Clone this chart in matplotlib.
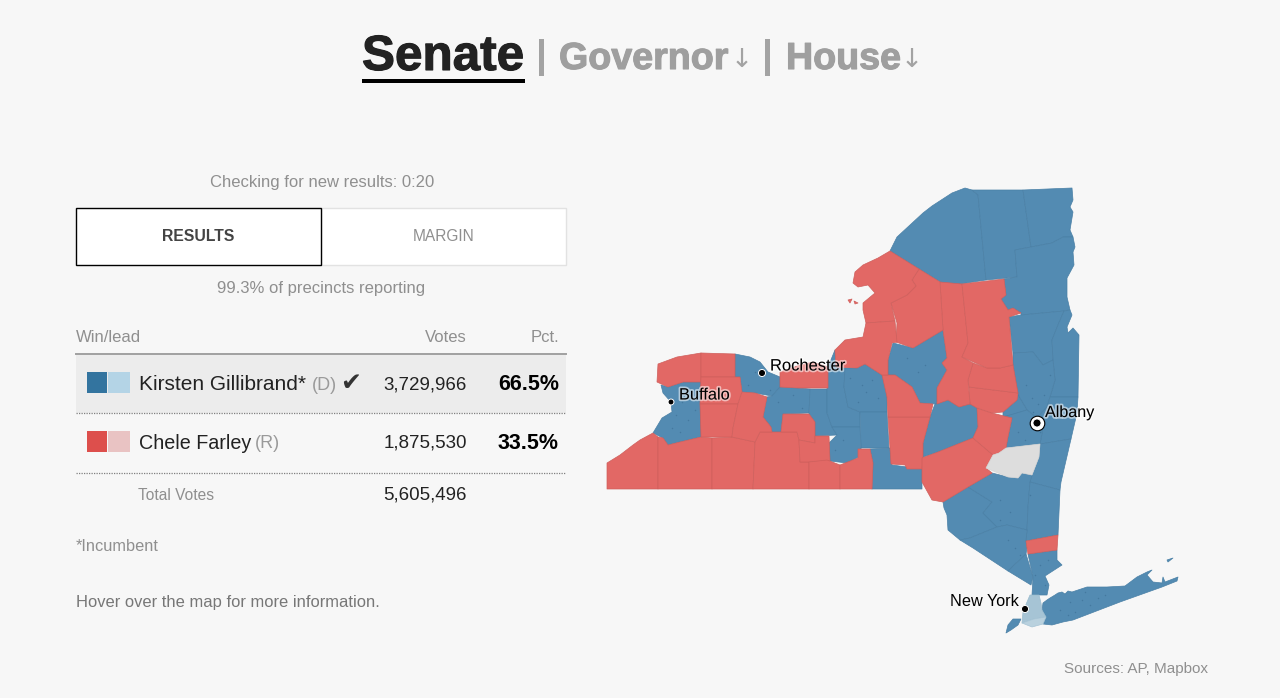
import matplotlib
matplotlib.use("Agg")
import matplotlib.pyplot as plt
import matplotlib.patheffects as pe
from matplotlib.patches import Rectangle

plt.rcParams["font.family"] = ["Liberation Sans", "DejaVu Sans"]

# county outlines (x, y in image pixels)
chautauqua = [(607,489),(607,463),(620,455),(633,445),(640,440),(653,433),(658,437),(658,489)]
cattaraugus = [(658,437),(663,438),(668,445),(680,442),(701,437),(712,438),(712,489),(658,489)]
allegany = [(712,438),(732,437),(755,442),(753,489),(712,489)]
steuben = [(755,442),(760,432),(797,432),(799,440),(800,462),(809,462),(809,489),(753,489)]
niagara = [(658,364),(677,357),(701,353),(701,382),(683,382),(668,387),(657,382)]
orleans = [(701,353),(735,354),(735,377),(701,377)]
genesee = [(701,377),(740,377),(742,392),(738,404),(700,404)]
wyoming = [(700,404),(738,404),(733,428),(732,437),(701,437)]
livingston = [(742,392),(755,393),(767,397),(763,417),(771,427),(772,432),(760,432),(755,442),(732,437),(733,428),(738,404)]
wayne = [(780,372),(800,365),(813,362),(828,367),(828,388),(798,388),(780,387)]
yates = [(783,414),(809,414),(815,422),(815,443),(799,440),(797,432),(781,432)]
schuyler = [(799,440),(815,443),(815,436),(829,436),(830,461),(809,462),(800,462)]
chemung = [(809,462),(827,460),(840,465),(840,489),(809,489)]
tioga = [(840,465),(858,458),(858,449),(870,449),(873,463),(872,489),(840,489)]
chenango = [(888,417),(930,417),(923,443),(923,457),(922,469),(907,469),(905,465),(891,464)]
madison = [(882,375),(895,375),(912,387),(920,403),(933,404),(930,417),(888,417),(887,397)]
delaware = [(922,458),(938,452),(973,438),(993,455),(986,468),(992,473),(968,487),(943,502),(932,500),(922,482)]
schoharie = [(977,408),(992,413),(1012,418),(1008,437),(1006,448),(999,453),(993,455),(973,438),(978,427)]
montgomery = [(969,387),(1018,393),(1017,400),(1003,412),(992,413),(977,408),(970,404)]
fulton = [(973,363),(987,368),(1000,368),(1013,365),(1018,393),(969,387),(968,380)]
herkimer = [(940,282),(962,284),(968,343),(962,357),(973,363),(968,380),(970,404),(959,407),(948,400),(937,404),(937,388),(947,370),(942,363),(947,358),(943,330)]
hamilton = [(962,284),(1004,279),(1006,295),(1001,299),(1008,310),(1013,308),(1021,313),(1009,317),(1013,365),(1000,368),(987,368),(962,357),(968,343)]
oneida = [(919,269),(940,282),(943,330),(913,348),(896,342),(897,323),(891,303),(907,295),(916,286),(912,280)]
jefferson = [(890,251),(919,269),(912,280),(916,286),(907,295),(891,303),(895,321),(866,323),(863,310),(863,303),(875,293),(868,285),(858,287),(853,283),(855,272),(863,265),(878,258)]
oswego = [(866,323),(895,321),(897,342),(892,343),(888,360),(888,375),(882,375),(865,364),(857,368),(836,367),(835,350),(845,340),(863,337)]
putnam = [(1026,541),(1058,535),(1057,550),(1028,554),(1027,548)]
lake_isle_a = [(848,300),(852,299),(850,303)]
lake_isle_b = [(854,301),(858,303),(855,304)]

erie = [(653,433),(662,418),(672,412),(671,402),(663,393),(661,385),(668,387),(683,382),(701,382),(701,437),(680,442),(668,445),(663,438)]
monroe = [(735,354),(750,357),(760,362),(768,372),(780,377),(780,387),(772,396),(755,393),(742,392),(740,377),(735,377)]
ontario = [(772,396),(780,387),(798,388),(810,389),(809,413),(783,414),(781,432),(772,432),(771,427),(763,417),(767,397)]
seneca = [(810,389),(827,389),(827,413),(832,427),(837,435),(815,436),(815,422),(809,414)]
cayuga = [(828,367),(835,350),(836,367),(845,368),(844,387),(848,407),(860,412),(860,427),(832,427),(827,413),(827,389)]
onondaga = [(845,368),(857,368),(865,364),(882,375),(887,383),(887,412),(860,412),(848,407),(844,387)]
cortland = [(860,412),(887,412),(889,448),(861,448)]
tompkins = [(832,427),(860,427),(861,448),(862,455),(847,463),(830,461),(829,443),(837,435)]
broome = [(870,449),(890,448),(892,465),(922,469),(922,489),(872,489),(873,463)]
oneida_south = [(893,343),(913,348),(943,330),(947,358),(942,363),(947,370),(937,388),(937,404),(920,403),(912,387),(895,375),(888,375),(888,360)]
otsego = [(930,417),(935,404),(948,400),(960,407),(968,402),(977,408),(978,427),(973,438),(938,452),(923,457),(923,443)]
st_lawrence = [(890,251),(897,237),(923,213),(932,206),(952,193),(965,188),(972,190),(978,195),(986,280),(947,286),(919,269)]
franklin = [(972,190),(1023,190),(1031,247),(1015,250),(1017,277),(986,280),(978,195)]
clinton = [(1023,190),(1072,188),(1073,200),(1070,207),(1073,212),(1070,230),(1073,237),(1063,237),(1052,243),(1031,247)]
essex = [(1015,250),(1031,247),(1052,243),(1063,237),(1073,237),(1075,247),(1073,252),(1074,265),(1067,278),(1067,297),(1070,310),(1064,311),(1021,315),(1021,313),(1013,308),(1008,310),(1001,299),(1006,295),(1004,279),(1017,277)]
warren = [(1009,317),(1021,315),(1064,311),(1058,325),(1052,340),(1053,360),(1043,365),(1033,352),(1013,353)]
washington = [(1064,311),(1070,310),(1072,315),(1067,327),(1068,333),(1073,328),(1079,335),(1078,397),(1050,397),(1055,380),(1053,360),(1052,340),(1058,325)]
saratoga = [(1013,353),(1033,352),(1043,365),(1053,360),(1055,380),(1050,397),(1047,407),(1037,418),(1027,410),(1018,395),(1013,365)]
rensselaer = [(1050,397),(1078,397),(1077,413),(1071,439),(1040,444),(1043,428),(1037,418),(1047,407)]
schenectady = [(1018,395),(1027,410),(1012,415),(1003,417),(1003,412),(1017,400)]
albany = [(1003,417),(1027,410),(1037,418),(1043,428),(1040,444),(1006,448),(1008,437),(1012,418)]
columbia = [(1040,444),(1071,439),(1061,482),(1060,490),(1030,482),(1032,475),(1039,457)]
sullivan = [(943,502),(968,487),(992,502),(983,513),(997,527),(970,538),(960,540),(948,530),(947,515),(944,508)]
ulster = [(968,487),(992,473),(1008,477),(1018,478),(1022,473),(1032,475),(1030,482),(1028,507),(1027,530),(1007,525),(997,527),(983,513),(992,502)]
dutchess = [(1030,482),(1060,490),(1058,535),(1026,541),(1027,530),(1028,507)]
orange = [(960,540),(970,538),(997,527),(1007,525),(1027,530),(1026,541),(1027,548),(1026,554),(1008,571),(973,548)]
rockland = [(1026,554),(1033,577),(1031,585),(1008,571)]
westchester = [(1028,554),(1057,550),(1057,560),(1062,565),(1045,576),(1049,585),(1047,595),(1032,595),(1033,577)]
staten_island = [(1006,633),(1008,625),(1013,619),(1021,619),(1018,625),(1011,630)]
long_island = [(1043,603),(1047,600),(1050,598),(1055,595),(1058,593),(1062,592),(1065,594),(1068,591),(1072,592),(1078,590),(1087,587),(1107,587),(1125,586),(1137,577),(1147,572),(1152,570),(1147,575),(1153,582),(1162,583),(1163,577),(1165,582),(1178,577),(1177,581),(1162,587),(1120,602),(1073,620),(1063,622),(1052,625),(1043,624),(1046,617),(1042,610)]
gardiners = [(1167,560),(1173,558),(1168,562)]

nyc_north = [(1030,595),(1039,595),(1041,603),(1042,610),(1046,617),(1034,619),(1022,623),(1023,612),(1027,602)]
nyc_south = [(1022,623),(1034,619),(1046,617),(1043,624),(1032,627)]
greene = [(993,455),(999,453),(1006,448),(1040,444),(1039,457),(1032,475),(1022,473),(1018,478),(1008,477),(986,468)]

red_counties = [chautauqua, cattaraugus, allegany, steuben, niagara, orleans, genesee, wyoming,
                livingston, wayne, yates, schuyler, chemung, tioga, chenango, madison, delaware,
                schoharie, montgomery, fulton, herkimer, hamilton, oneida, jefferson, oswego,
                putnam, lake_isle_a, lake_isle_b]
blue_counties = [erie, monroe, ontario, seneca, cayuga, onondaga, cortland, tompkins, broome,
                 oneida_south, otsego, st_lawrence, franklin, clinton, essex, warren, washington,
                 saratoga, rensselaer, schenectady, albany, columbia, sullivan, ulster, dutchess,
                 orange, rockland, westchester, staten_island, long_island, gardiners]

# darker specks of population, where they bunch up on the map
speck_x = [676, 682, 688, 672, 690, 680, 695, 684, 755, 748, 770, 778, 793, 802, 850, 862, 866, 872, 878, 858,
           843, 835, 907, 918, 925, 1026, 1032, 1038, 1033, 1044, 1050, 1040, 1018, 1025, 1000, 1008, 1015,
           1020, 1040, 1035, 1048, 1045, 1060, 1070, 1082, 1090, 1098, 1075, 1105, 1068, 1085, 1010, 1000, 1030]
speck_y = [415, 402, 420, 428, 395, 432, 410, 390, 372, 385, 390, 402, 395, 408, 378, 385, 392, 380, 398, 402,
           440, 450, 358, 372, 365, 385, 398, 404, 412, 395, 375, 432, 432, 440, 500, 540, 548, 555, 565, 575,
           560, 585, 610, 602, 600, 605, 598, 612, 595, 615, 592, 512, 520, 495]

cities = ["Buffalo", "Rochester", "Albany", "New York"]
city_x = [671, 762, 1037, 1025]
city_y = [402, 373, 423, 609]

candidates = ["Kirsten Gillibrand*", "Chele Farley"]
parties = ["(D)", "(R)"]
votes = ["3,729,966", "1,875,530"]
shares = ["66.5%", "33.5%"]
total_votes = "5,605,496"

BG = "#f7f7f7"
GREY = "#8f8f8f"
INK = "#222222"

fig = plt.figure(figsize=(12.8, 6.98), dpi=100, facecolor=BG)
ax = fig.add_axes([0, 0, 1, 1])
ax.set_xlim(0, 1280)
ax.set_ylim(698, 0)
ax.axis("off")


def draw_counties(shapes, fill, edge):
    for shape in shapes:
        xs, ys = zip(*shape)
        ax.fill(xs, ys, facecolor=fill, edgecolor=edge, linewidth=0.5, joinstyle="round", zorder=2)


draw_counties(blue_counties, "#538bb2", "#4a80a6")
draw_counties(red_counties, "#e26865", "#cf5f5c")
draw_counties([greene], "#dddddd", "#d6d6d6")
draw_counties([nyc_north], "#a6c4d5", "#9abccf")
draw_counties([nyc_south], "#b9d1de", "#a6c4d5")
ax.scatter(speck_x, speck_y, s=1.2, c="#44799f", linewidths=0, zorder=3)

# city markers and labels
halo = [pe.withStroke(linewidth=2.5, foreground="white", alpha=0.55)]
ax.scatter([city_x[2]], [city_y[2]], s=110, c="white", edgecolors="black", linewidths=0.8, zorder=4)
ax.scatter(city_x, city_y, s=[18, 26, 34, 26], c="black", edgecolors="white", linewidths=0.7, zorder=5)
ax.text(679, 395, cities[0], fontsize=11.8, color="black", va="center", path_effects=halo, zorder=6)
ax.text(770, 366, cities[1], fontsize=11.9, color="black", va="center", path_effects=halo, zorder=6)
ax.text(1045, 412.5, cities[2], fontsize=11.6, color="black", va="center", path_effects=halo, zorder=6)
ax.text(950, 601, cities[3], fontsize=11.7, color="black", va="center", zorder=6)

# title row
bold_ink = [pe.withStroke(linewidth=0.8, foreground=INK)]
bold_grey = [pe.withStroke(linewidth=0.8, foreground="#9f9f9f")]
ax.text(362, 70, "Senate", fontsize=35.6, fontweight="bold", color=INK, va="baseline", path_effects=bold_ink)
ax.add_patch(Rectangle((362, 79), 163, 3.5, facecolor="black", edgecolor="none"))
ax.text(541.5, 58, "|", fontsize=28, fontweight="bold", color="#a3a3a3", ha="center", va="center")
ax.text(559, 69, "Governor", fontsize=27.1, fontweight="bold", color="#9f9f9f", va="baseline", path_effects=bold_grey)
ax.text(742, 60, "↓", fontsize=19, color="#a3a3a3", ha="center", va="center", family="DejaVu Sans")
ax.text(767.5, 58, "|", fontsize=28, fontweight="bold", color="#a3a3a3", ha="center", va="center")
ax.text(786, 69, "House", fontsize=27.1, fontweight="bold", color="#9f9f9f", va="baseline", path_effects=bold_grey)
ax.text(912, 60, "↓", fontsize=19, color="#a3a3a3", ha="center", va="center", family="DejaVu Sans")

# controls
ax.text(322, 182, "Checking for new results: 0:20", fontsize=12, color=GREY, ha="center", va="center")
ax.add_patch(Rectangle((320.5, 207.5), 245, 57, facecolor="white", edgecolor="#e2e2e2", linewidth=1))
ax.add_patch(Rectangle((75.5, 207.5), 245, 57, facecolor="white", edgecolor="black", linewidth=1))
ax.text(198.5, 236.5, "RESULTS", fontsize=11.3, fontweight="bold", color="#444444", ha="center", va="center")
ax.text(443.5, 236.5, "MARGIN", fontsize=11.2, color=GREY, ha="center", va="center")
ax.text(321, 288, "99.3% of precincts reporting", fontsize=12, color=GREY, ha="center", va="center")

# results table
ax.text(76, 337.5, "Win/lead", fontsize=12, color=GREY, va="center")
ax.text(467, 337.5, "Votes", fontsize=12, color=GREY, ha="right", va="center")
ax.text(559, 337.5, "Pct.", fontsize=12, color=GREY, ha="right", va="center")
ax.add_patch(Rectangle((76, 355), 490, 58, facecolor="#ececec", edgecolor="none"))
ax.plot([76, 566], [354, 354], color="#a0a0a0", linewidth=1.4)
for y in (413, 473):
    ax.plot([76, 566], [y, y], color="#808080", linewidth=0.9, linestyle=(0, (1, 1)))

row_y = [383, 442]
dark = ["#33749f", "#dd4f4c"]
light = ["#b4d4e6", "#e9c3c3"]
name_size = [15, 14.2]
party_x = [312, 255]
for i, y in enumerate(row_y):
    ax.add_patch(Rectangle((87, y - 11), 20, 21, facecolor=dark[i], edgecolor="none"))
    ax.add_patch(Rectangle((108, y - 11), 22, 21, facecolor=light[i], edgecolor="none"))
    ax.text(139, y + 1.5, candidates[i], fontsize=name_size[i], color=INK, va="center")
    ax.text(party_x[i], y + 2, parties[i], fontsize=13, color="#9a9a9a", va="center")
    ax.text(467, y + 1.5, votes[i], fontsize=13.5, color=INK, ha="right", va="center")
    ax.text(559, y + 1.5, shares[i], fontsize=15.5, fontweight="bold", color="black", ha="right", va="center")
ax.text(351, 383, "✔", fontsize=18, color="#333333", ha="center", va="center", family="DejaVu Sans")

ax.text(138, 496, "Total Votes", fontsize=11.2, color=GREY, va="center")
ax.text(467, 495, total_votes, fontsize=13.5, color=INK, ha="right", va="center")
ax.text(76, 546.5, "*Incumbent", fontsize=11.8, color=GREY, va="center")
ax.text(76, 602, "Hover over the map for more information.", fontsize=11.9, color="#777777", va="center")
ax.text(1208, 668.5, "Sources: AP, Mapbox", fontsize=11, color=GREY, ha="right", va="center")

fig.savefig("out.png", dpi=100, facecolor=BG)
